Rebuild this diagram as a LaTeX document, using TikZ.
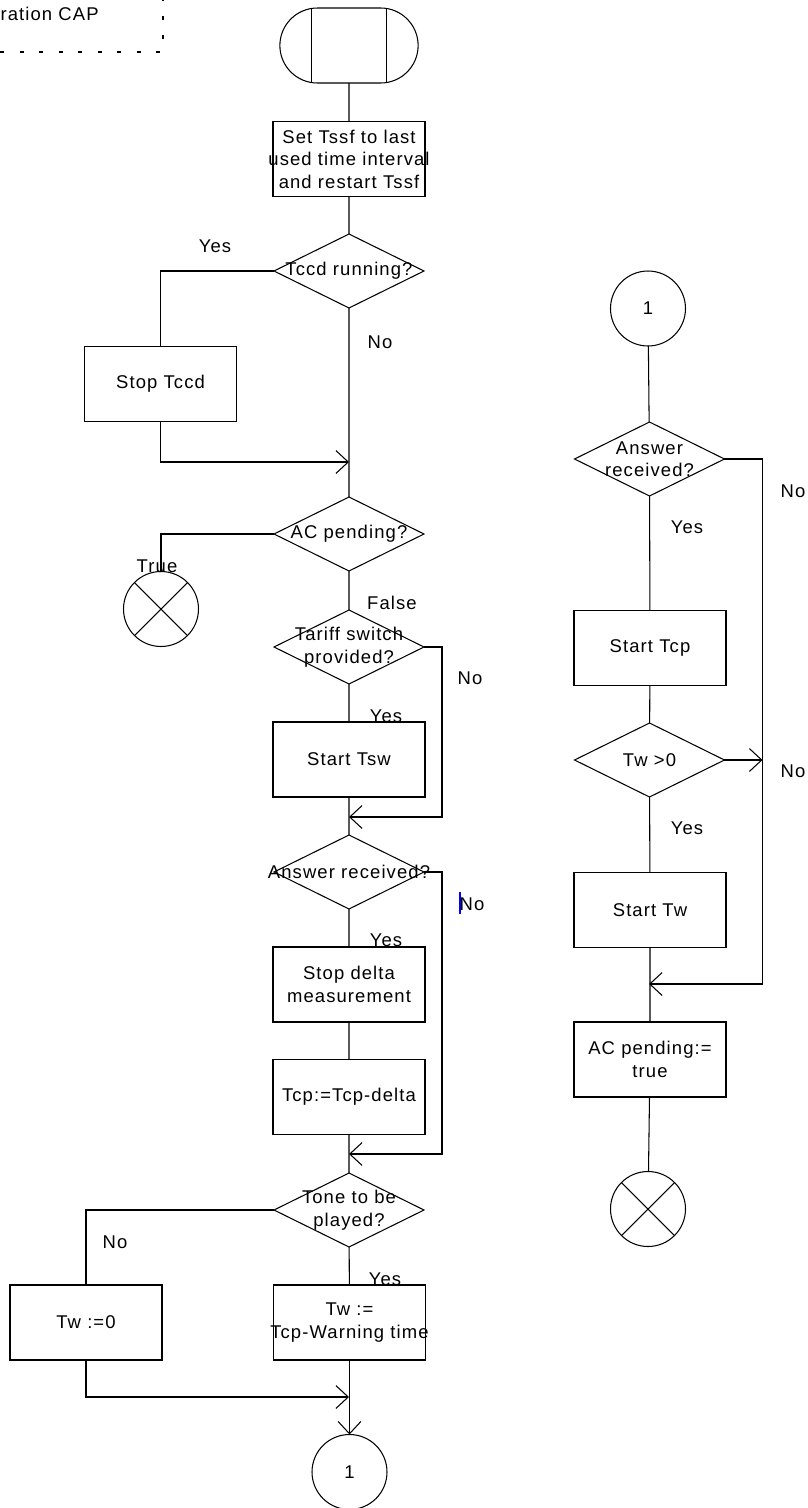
\documentclass[tikz,border=0pt]{standalone}
\usepackage{fontspec}
\setmainfont{Liberation Sans}[LetterSpace=6]
\usetikzlibrary{shapes,arrows.meta}

\begin{document}
\begin{tikzpicture}[x=0.02cm,y=-0.02cm,line width=0.6pt,
  font=\fontsize{10.5}{12.8}\selectfont,
  >={Straight Barb[length=7pt,width=13pt]},
  box/.style={draw,rectangle,minimum width=3.04cm,minimum height=1.5cm,inner sep=0pt,outer sep=0pt},
  dec/.style={draw,diamond,minimum width=3cm,minimum height=1.48cm,inner sep=0pt,outer sep=0pt},
  txt/.style={align=center,inner sep=0pt},
  conn/.style={draw,circle,minimum size=1.5cm,inner sep=0pt,outer sep=0pt},
  stopsym/.style={conn,path picture={
    \draw (path picture bounding box.north west) -- (path picture bounding box.south east)
          (path picture bounding box.south west) -- (path picture bounding box.north east);}}]
  \useasboundingbox (0,0) rectangle (808,1508);

  % header box
  \node[anchor=west,inner sep=0pt] (hdr) at (0,14) {ration CAP};
  \draw[dash pattern=on 2.3pt off 8.8pt] (0,52) -- (163,52) -- (163,0);

  % left column
  \node[draw,rounded rectangle,minimum width=3cm,minimum height=1.5cm,outer sep=0pt] (start) at (349,45.5) {};
  \draw ([xshift=-0.75cm]start.north) -- ([xshift=-0.75cm]start.south);
  \draw ([xshift=0.75cm]start.north) -- ([xshift=0.75cm]start.south);
  \node[box,label={[txt]center:{Set Tssf to last\\used time interval\\and restart Tssf}}] (settssf) at (349,159) {};
  \node[dec,label={[txt]center:Tccd running?}] (tccd) at (349,271) {};
  \node[box,label={[txt]center:Stop Tccd}] (stoptccd) at (160.5,384) {};
  \coordinate (m1) at (349,462);
  \node[dec,label={[txt]center:AC pending?}] (acpend) at (349,534) {};
  \node[stopsym] (endA) at (161,609) {};
  \node[dec,label={[txt]center:{Tariff switch\\provided?}}] (tariff) at (349,647) {};
  \node[box,label={[txt]center:Start Tsw}] (starttsw) at (349,759.5) {};
  \coordinate (m2) at (349,817);
  \node[dec,label={[txt]center:Answer received?}] (answer) at (349,872) {};
  \node[box,label={[txt]center:{Stop delta\\measurement}}] (stopdelta) at (349,984.5) {};
  \node[box,label={[txt]center:Tcp:=Tcp-delta}] (tcpdelta) at (349,1097) {};
  \coordinate (m3) at (349,1154);
  \node[dec,label={[txt]center:{Tone to be\\played?}}] (tone) at (349,1210) {};
  \node[box,label={[txt]center:Tw :=0}] (twzero) at (86,1322.5) {};
  \node[box,label={[txt]center:{Tw :=\\Tcp-Warning time}}] (twwarn) at (349.5,1322.5) {};
  \coordinate (m4) at (349,1397);
  \node[conn] (con1) at (349.5,1472) {1};

  \draw (start) -- (settssf) -- (tccd) -- (acpend) -- (tariff) -- (starttsw) -- (answer)
        -- (stopdelta) -- (tcpdelta) -- (tone) -- (twwarn);
  \draw (tccd.west) -| (stoptccd.north);
  \draw[->] (stoptccd.south) |- (m1);
  \draw (acpend.west) -| (endA.north);
  \draw[->] (tariff.east) -- ++(18,0) |- (m2);
  \draw[->] (answer.east) -- ++(18,0) |- (m3);
  \draw (tone.west) -| (twzero.north);
  \draw[->] (twzero.south) |- (m4);
  \draw[->] (twwarn.south) -- (con1.north);

  \node (yes1) at (215,246) {Yes};
  \node (no1) at (380,342) {No};
  \node (true1) at (157,566) {True};
  \node (false1) at (392,603) {False};
  \node (no2) at (470,678) {No};
  \node (yes2) at (386,716) {Yes};
  \node (no3) at (472,904) {No};
  \draw[blue,line width=0.8pt] (460,892) -- (460,914);
  \node (yes3) at (386,940) {Yes};
  \node (no4) at (115,1242) {No};
  \node (yes4) at (385,1279) {Yes};

  % right column
  \node[conn] (con1b) at (648,308.5) {1};
  \node[dec,label={[txt]center:{Answer\\received?}}] (answer2) at (649.5,459) {};
  \node[box,label={[txt]center:Start Tcp}] (starttcp) at (650,648) {};
  \node[dec,label={[txt]center:Tw >0}] (twpos) at (649.5,760) {};
  \node[box,label={[txt]center:Start Tw}] (starttw) at (650,910) {};
  \coordinate (m5) at (649,984);
  \node[box,label={[txt]center:{AC pending:=\\true}}] (actrue) at (650,1059.5) {};
  \node[stopsym] (endB) at (648,1209) {};

  \draw (con1b) -- (answer2) -- (starttcp) -- (twpos) -- (starttw) -- (actrue) -- (endB);
  \draw[->] (answer2.east) -- ++(38,0) |- (m5);
  \draw[->] (twpos.east) -- ++(38,0);

  \node (no5) at (793,491) {No};
  \node (yes5) at (687,527) {Yes};
  \node (no6) at (793,771) {No};
  \node (yes6) at (687,828) {Yes};
\end{tikzpicture}
\end{document}
